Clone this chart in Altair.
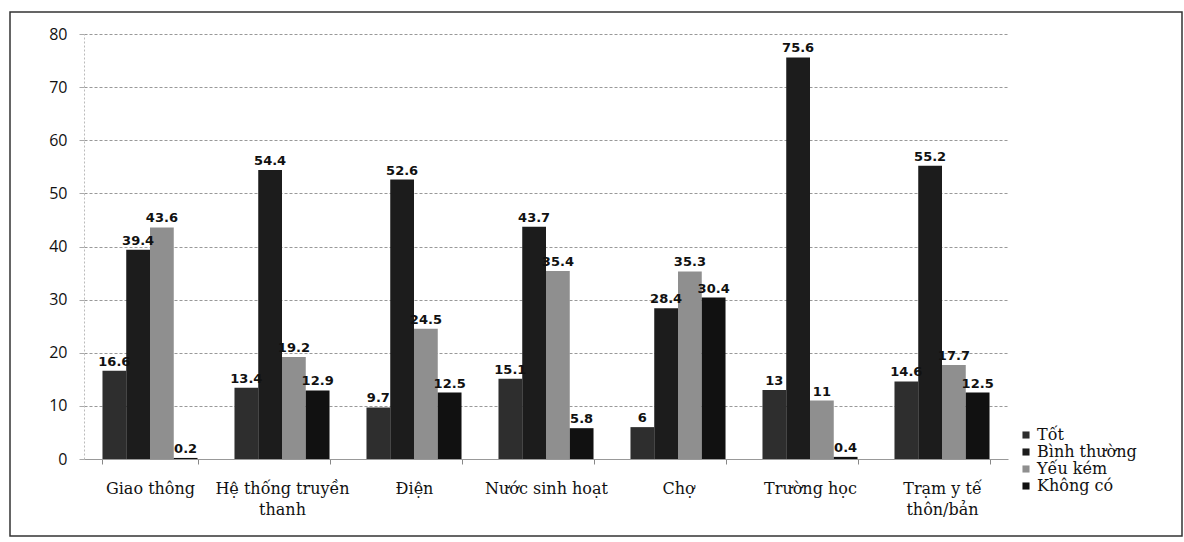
import altair as alt
import pandas as pd

categories = ["Giao thông", "Hệ thống truyền thanh", "Điện", "Nước sinh hoạt",
              "Chợ", "Trường học", "Trạm y tế thôn/bản"]
series = ["Tốt", "Bình thường", "Yếu kém", "Không có"]
tot = [16.6, 13.4, 9.7, 15.1, 6, 13, 14.6]
binh_thuong = [39.4, 54.4, 52.6, 43.7, 28.4, 75.6, 55.2]
yeu_kem = [43.6, 19.2, 24.5, 35.4, 35.3, 11, 17.7]
khong_co = [0.2, 12.9, 12.5, 5.8, 30.4, 0.4, 12.5]
colors = ["#2e2e2e", "#1c1c1c", "#8f8f8f", "#111111"]

rows = []
for s, vals in zip(series, [tot, binh_thuong, yeu_kem, khong_co]):
    for c, v in zip(categories, vals):
        rows.append({"cat": c, "series": s, "value": v, "label": f"{v:g}"})
df = pd.DataFrame(rows)

label_expr = ("datum.value == 'Hệ thống truyền thanh' ? ['Hệ thống truyền', 'thanh'] : "
              "datum.value == 'Trạm y tế thôn/bản' ? ['Trạm y tế', 'thôn/bản'] : datum.value")

x = alt.X("cat:N", sort=categories, title=None,
          scale=alt.Scale(paddingInner=0.28, paddingOuter=0.14),
          axis=alt.Axis(labelAngle=0, labelFont="DejaVu Serif", labelFontSize=16,
                        labelColor="#111", labelPadding=16, tickBand="extent",
                        tickSize=5, tickColor="#888", domainColor="#999",
                        labelExpr=label_expr, labelLineHeight=21, labelBaseline="top"))
y = alt.Y("value:Q", title=None,
          scale=alt.Scale(domain=[0, 80], nice=False),
          axis=alt.Axis(values=list(range(0, 81, 10)), labelFont="Open Sans",
                        labelFontSize=16, labelColor="#111", labelPadding=12,
                        tickSize=5, tickColor="#aaa", domainColor="#bbb",
                        domainDash=[2, 2], gridColor="#999", gridDash=[3, 2],
                        gridWidth=1))
xo = alt.XOffset("series:N", sort=series, scale=alt.Scale(paddingInner=0))

base = alt.Chart(df)
bars = base.mark_bar().encode(
    x=x, y=y, xOffset=xo,
    color=alt.Color("series:N", sort=series,
                    scale=alt.Scale(domain=series, range=colors),
                    legend=alt.Legend(title=None, orient="none", legendX=934, legendY=393,
                                      symbolType="square", symbolSize=50,
                                      labelFont="DejaVu Serif", labelFontSize=16,
                                      labelColor="#111", rowPadding=1, labelOffset=3,
                                      symbolStrokeWidth=0)),
)
text = base.mark_text(dy=-9, fontSize=13, fontWeight="bold", font="DejaVu Sans",
                      color="#111").encode(
    x=alt.X("cat:N", sort=categories), y="value:Q", xOffset=xo, text="label:N")

border = alt.Chart(pd.DataFrame({"a": [0]})).mark_rect(
    fill=None, stroke="#333", strokeWidth=1.5).encode(
    x=alt.value(-74), x2=alt.value(1098), y=alt.value(-22), y2=alt.value(502))

chart = alt.layer(border, bars, text).properties(
    width=924, height=425,
    autosize=alt.AutoSizeParams(type="none"),
    padding={"left": 84, "top": 34, "right": 176, "bottom": 83},
).configure_view(stroke=None)

chart.save("out.html", embed_options={"renderer": "svg", "actions": False})
